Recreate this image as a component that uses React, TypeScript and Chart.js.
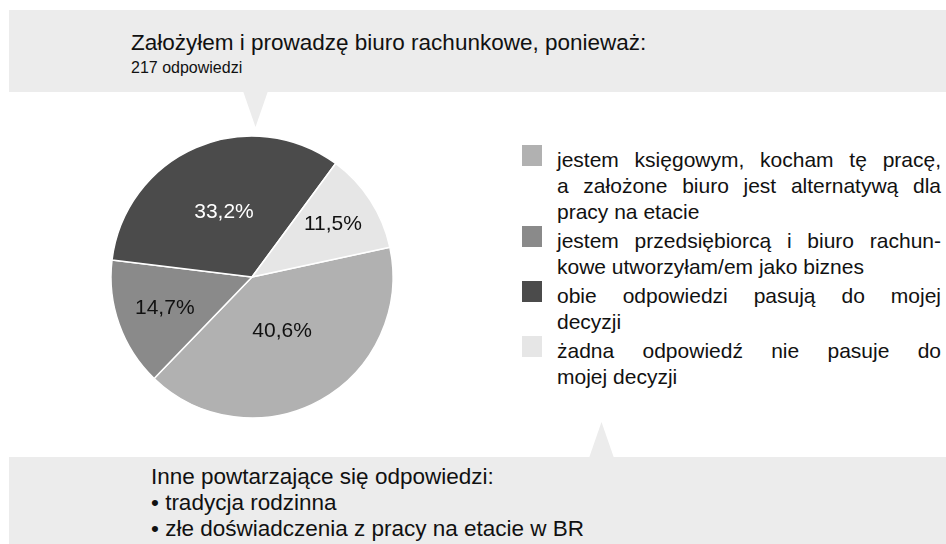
import React, { useEffect, useRef } from "react";
import { Chart, registerables } from "chart.js";

Chart.register(...registerables);

const title = "Założyłem i prowadzę biuro rachunkowe, ponieważ:";
const subtitle = "217 odpowiedzi";
const categories = [
  "jestem księgowym, kocham tę pracę, a założone biuro jest alternatywą dla pracy na etacie",
  "jestem przedsiębiorcą i biuro rachunkowe utworzyłam/em jako biznes",
  "obie odpowiedzi pasują do mojej decyzji",
  "żadna odpowiedź nie pasuje do mojej decyzji",
];
const legendLines = [
  ["jestem księgowym, kocham tę pracę,", "a założone biuro jest alternatywą dla", "pracy na etacie"],
  ["jestem przedsiębiorcą i biuro rachun-", "kowe utworzyłam/em jako biznes"],
  ["obie odpowiedzi pasują do mojej", "decyzji"],
  ["żadna odpowiedź nie pasuje do", "mojej decyzji"],
];
const values = [40.6, 14.7, 33.2, 11.5];
const colors = ["#b1b1b1", "#8a8a8a", "#4b4b4b", "#e6e6e6"];
const noteTitle = "Inne powtarzające się odpowiedzi:";
const noteItems = ["tradycja rodzinna", "złe doświadczenia z pracy na etacie w BR"];

const FONT = "'Liberation Sans', Arial, Helvetica, sans-serif";
const BANNER = "#ececec";

function isDark(hex: string) {
  const n = parseInt(hex.slice(1), 16);
  const r = (n >> 16) & 255, g = (n >> 8) & 255, b = n & 255;
  return 0.299 * r + 0.587 * g + 0.114 * b < 128;
}

const labelPlugin = {
  id: "sliceLabels",
  afterDatasetsDraw(chart: any) {
    const ctx = chart.ctx;
    const meta = chart.getDatasetMeta(0);
    const data = chart.data.datasets[0].data as number[];
    const total = data.reduce((a, b) => a + b, 0);
    ctx.save();
    ctx.font = `21px ${FONT}`;
    ctx.textAlign = "center";
    ctx.textBaseline = "middle";
    meta.data.forEach((arc: any, i: number) => {
      const p = arc.getProps(["x", "y", "startAngle", "endAngle", "outerRadius"], true);
      const pct = (data[i] / total) * 100;
      const mid = (p.startAngle + p.endAngle) / 2;
      const f = 0.78 - 0.0084 * pct;
      const r = p.outerRadius * f;
      const x = p.x + Math.cos(mid) * r;
      const y = p.y + Math.sin(mid) * r;
      ctx.fillStyle = isDark(colors[i]) ? "#ffffff" : "#111111";
      ctx.fillText(pct.toFixed(1).replace(".", ",") + "%", x, y);
    });
    ctx.restore();
  },
};

function PieChart() {
  const ref = useRef<HTMLCanvasElement | null>(null);
  useEffect(() => {
    if (!ref.current) return;
    const chart = new Chart(ref.current, {
      type: "pie",
      data: {
        labels: categories,
        datasets: [
          {
            data: values,
            backgroundColor: colors,
            borderColor: "#ffffff",
            borderWidth: 1.5,
          },
        ],
      },
      options: {
        responsive: false,
        animation: false,
        devicePixelRatio: 1,
        rotation: 77.8,
        radius: 141,
        layout: { padding: 0 },
        plugins: {
          legend: { display: false },
          tooltip: { enabled: false },
          title: { display: false },
        },
        events: [],
      } as any,
      plugins: [labelPlugin],
    });
    return () => chart.destroy();
  }, []);
  return (
    <canvas
      ref={ref}
      width={300}
      height={300}
      style={{ position: "absolute", left: 102, top: 127, width: 300, height: 300 }}
    />
  );
}

export default function App() {
  const abs = (s: React.CSSProperties): React.CSSProperties => ({ position: "absolute", ...s });
  return (
    <div
      style={{
        position: "fixed",
        left: 0,
        top: 0,
        width: 946,
        height: 544,
        background: "#ffffff",
        overflow: "hidden",
        fontFamily: FONT,
        color: "#111111",
      }}
    >
      {/* top banner */}
      <div style={abs({ left: 9, top: 10, width: 937, height: 82, background: BANNER })} />
      <div
        style={abs({
          left: 243,
          top: 91,
          width: 25,
          height: 36,
          background: BANNER,
          clipPath: "polygon(0 0, 100% 0, 50% 100%)",
        })}
      />
      <div style={abs({ left: 131, top: 30, fontSize: 22.5, lineHeight: "26px", whiteSpace: "nowrap" })}>
        {title}
      </div>
      <div style={abs({ left: 131, top: 57.5, fontSize: 16, lineHeight: "20px", whiteSpace: "nowrap" })}>
        {subtitle}
      </div>

      {/* bottom banner */}
      <div style={abs({ left: 9, top: 457, width: 937, height: 87, background: BANNER })} />
      <div
        style={abs({
          left: 589,
          top: 422,
          width: 25,
          height: 36,
          background: BANNER,
          clipPath: "polygon(50% 0, 100% 100%, 0 100%)",
        })}
      />
      <div style={abs({ left: 151, top: 464, fontSize: 22.5, lineHeight: "26px", whiteSpace: "nowrap" })}>
        <div>{noteTitle}</div>
        {noteItems.map((t, i) => (
          <div key={i}>{"\u2022 " + t}</div>
        ))}
      </div>

      <PieChart />

      {/* legend */}
      <div style={abs({ left: 522, top: 144.5, width: 424 })}>
        {legendLines.map((lines, i) => (
          <div key={i} style={{ position: "relative", marginBottom: 3, paddingLeft: 35 }}>
            <div
              style={{
                position: "absolute",
                left: 0,
                top: 0,
                width: 20,
                height: 21,
                background: colors[i],
              }}
            />
            {lines.map((ln, j) => (
              <div
                key={j}
                style={{
                  fontSize: 21,
                  lineHeight: "26px",
                  width: 384,
                  whiteSpace: "nowrap",
                  position: "relative",
                  top: 2,
                  textAlign: j < lines.length - 1 ? "justify" : "left",
                  textAlignLast: j < lines.length - 1 ? "justify" : "left",
                }}
              >
                {ln}
              </div>
            ))}
          </div>
        ))}
      </div>
    </div>
  );
}
